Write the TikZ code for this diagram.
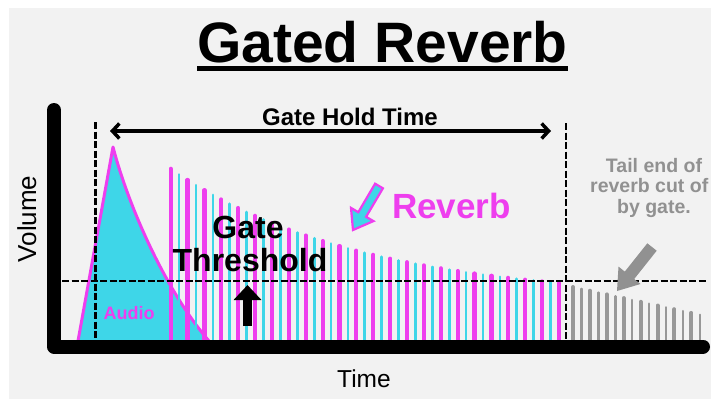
\documentclass[tikz,border=0pt]{standalone}
\usepackage{fontspec}
\setmainfont{Liberation Sans}
\usetikzlibrary{arrows.meta,calc}
\definecolor{bg}{RGB}{242,242,242}
\definecolor{mag}{RGB}{238,62,238}
\definecolor{cya}{RGB}{62,214,232}
\definecolor{grayc}{RGB}{152,152,152}
\definecolor{graytxt}{RGB}{145,145,145}
\begin{document}
\begin{tikzpicture}[x=1pt,y=-1pt,
  magbar/.style={draw=mag,line width=4.2pt,line cap=round},
  cyabar/.style={draw=cya,line width=2.7pt,line cap=round},
  gthick/.style={draw=grayc,line width=4pt,line cap=round},
  gthin/.style={draw=grayc,line width=2.5pt,line cap=round},
  dashline/.style={draw=black,line width=2.6pt,dash pattern=on 7pt off 2.5pt},
  lbl/.style={inner sep=0pt,anchor=base}]
\useasboundingbox (0,0) rectangle (711,399);
\fill[white] (0,0) rectangle (711,399);
\fill[bg] (9,8) rectangle (711,399);
% audio envelope
\draw[fill=cya,draw=mag,line width=3pt,line join=round]
  (78,341) -- (113,147) .. controls (128,205) and (165,290) .. (209,341);
% reverb bars
\foreach \k in {0,...,23} {
  \pgfmathsetmacro{\xx}{170.7+16.88*\k}
  \pgfmathsetmacro{\tt}{300-131*exp(-(\xx-171)/190)}
  \draw[magbar] (\xx,341) -- (\xx,\tt);
}
\foreach \k in {0,...,22} {
  \pgfmathsetmacro{\xx}{179.14+16.88*\k}
  \pgfmathsetmacro{\tt}{300-131*exp(-(\xx-171)/190)}
  \draw[cyabar] (\xx,341) -- (\xx,\tt);
}
% tail bars
\foreach \k in {0,...,7} {
  \pgfmathsetmacro{\xx}{573+16.9*\k}
  \pgfmathsetmacro{\tt}{287+0.219*(\xx-573)}
  \draw[gthick] (\xx,341) -- (\xx,\tt);
  \pgfmathsetmacro{\xy}{581.45+16.9*\k}
  \pgfmathsetmacro{\ty}{287+0.219*(\xy-573)}
  \draw[gthin] (\xy,341) -- (\xy,\ty);
}
% axes
\draw[line width=14pt,line cap=round,line join=round] (54,110) -- (54,346.5) -- (703,346.5);
% dashed lines
\draw[dashline] (95.5,122) -- (95.5,340);
\draw[dashline] (566,123) -- (566,340);
\draw[dashline] (62,281) -- (707,281);
% title
\node[lbl] (title) at (382.5,62) {\fontsize{57}{57}\selectfont\bfseries Gated Reverb};
\coordinate (ul1) at (197,68.5);
\coordinate (ul2) at (568,68.5);
\draw[line width=5pt] (ul1) -- (ul2);
% gate hold time
\node[lbl] (hold) at (350,125) {\fontsize{24}{24}\selectfont\bfseries Gate Hold Time};
\coordinate (gh1) at (110,131);
\coordinate (gh2) at (551,131);
\draw[line width=3.5pt,line join=round,{Straight Barb[length=7pt,width=15pt]}-{Straight Barb[length=7pt,width=15pt]}] (gh1) -- (gh2);
% axis labels
\node[lbl] (time) at (364,387) {\fontsize{24.5}{24.5}\selectfont Time};
\node[lbl,rotate=90] (vol) at (36,219) {\fontsize{26}{26}\selectfont Volume};
% audio label
\node[lbl,text=mag] (audio) at (129,319) {\fontsize{18}{18}\selectfont\bfseries Audio};
% gate threshold
\node[lbl] (gate) at (248,238.5) {\fontsize{32}{32}\selectfont\bfseries Gate};
\node[lbl] (thr) at (250,271.5) {\fontsize{32}{32}\selectfont\bfseries Threshold};
\coordinate (ua1) at (247.5,326);
\coordinate (ua2) at (247.5,285);
\draw[line width=9pt,-{Triangle[length=15pt,width=27pt]}] (ua1) -- (ua2);
% reverb label and arrow
\node[lbl,anchor=base west,text=mag] (rev) at (392,218) {\fontsize{35}{35}\selectfont\bfseries Reverb};
\filldraw[fill=cya,draw=mag,line width=2.2pt,line join=miter]
  (382.9,188.3) -- (366.1,216.8) -- (373.4,221.1) -- (353,230) -- (351.0,207.9) -- (358.3,212.2) -- (375.1,183.7) -- cycle;
% tail text and arrow
\node[lbl,text=graytxt] (t1) at (654,172) {\fontsize{19.5}{19.5}\selectfont\bfseries Tail end of};
\node[lbl,anchor=base west,text=graytxt] (t2) at (590,192.5) {\fontsize{19.5}{19.5}\selectfont\bfseries reverb cut of};
\node[lbl,text=graytxt] (t3) at (654,213) {\fontsize{19.5}{19.5}\selectfont\bfseries by gate.};
\fill[graytxt]
  (656.7,250.7) -- (634.2,279.0) -- (640.5,284.0) -- (617,291) -- (618.5,266.6) -- (624.8,271.6) -- (647.3,243.3) -- cycle;
\end{tikzpicture}
\end{document}
